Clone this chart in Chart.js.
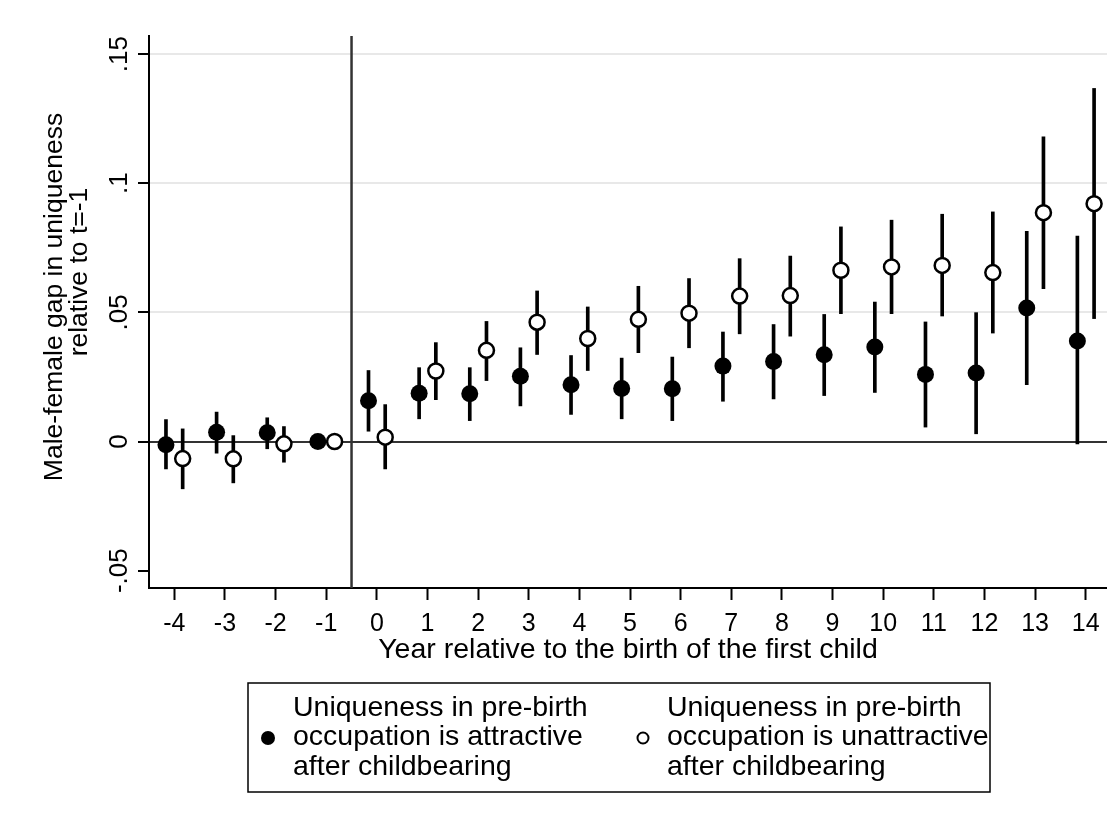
<!DOCTYPE html>
<html>
<head>
<meta charset="utf-8">
<script src="https://cdn.jsdelivr.net/npm/chart.js@4.4.1/dist/chart.umd.min.js"></script>
<style>
  html, body { margin: 0; padding: 0; background: #fff; }
  #wrap { width: 1107px; height: 833px; }
</style>
</head>
<body>
<div id="wrap"><canvas id="chart" width="1107" height="833"></canvas></div>
<script>
// years relative to the birth of the first child
const years = [-4, -3, -2, -1, 0, 1, 2, 3, 4, 5, 6, 7, 8, 9, 10, 11, 12, 13, 14];

// uniqueness in pre-birth occupation is attractive (filled markers)
const attEst = [-0.0012, 0.0036, 0.0034, 0, 0.0158, 0.0187, 0.0185, 0.0253, 0.0220, 0.0205, 0.0204, 0.0292, 0.0310, 0.0336, 0.0366, 0.0260, 0.0265, 0.0517, 0.0389];
const attLo  = [-0.0106, -0.0045, -0.0028, null, 0.0040, 0.0088, 0.0081, 0.0138, 0.0105, 0.0088, 0.0081, 0.0156, 0.0165, 0.0178, 0.0190, 0.0056, 0.0030, 0.0220, -0.0009];
const attHi  = [0.0085, 0.0114, 0.0092, null, 0.0275, 0.0286, 0.0286, 0.0363, 0.0333, 0.0323, 0.0327, 0.0424, 0.0453, 0.0492, 0.0540, 0.0463, 0.0499, 0.0814, 0.0795];

// uniqueness in pre-birth occupation is unattractive (hollow markers)
const unEst = [-0.0066, -0.0067, -0.0009, 0, 0.0017, 0.0273, 0.0353, 0.0462, 0.0399, 0.0473, 0.0497, 0.0563, 0.0565, 0.0663, 0.0676, 0.0682, 0.0654, 0.0886, 0.0921];
const unLo  = [-0.0183, -0.0160, -0.0080, null, -0.0106, 0.0162, 0.0236, 0.0337, 0.0275, 0.0344, 0.0363, 0.0417, 0.0408, 0.0495, 0.0495, 0.0486, 0.0420, 0.0592, 0.0476];
const unHi  = [0.0049, 0.0023, 0.0058, null, 0.0143, 0.0383, 0.0465, 0.0583, 0.0521, 0.0601, 0.0631, 0.0708, 0.0718, 0.0831, 0.0857, 0.0880, 0.0889, 0.1180, 0.1367];

const yTicks = [-0.05, 0, 0.05, 0.1, 0.15];
const yTickLabels = ['-.05', '0', '.05', '.1', '.15'];
const xTitle = 'Year relative to the birth of the first child';
const yTitle = ['Male-female gap in uniqueness', 'relative to t=-1'];
const legendLabels = [
  ['Uniqueness in pre-birth', 'occupation is attractive', 'after childbearing'],
  ['Uniqueness in pre-birth', 'occupation is unattractive', 'after childbearing']
];

const FONT = "'Liberation Sans', Arial, sans-serif";
const SHIFT = 0.165; // horizontal dodge of the two series

const pts = (est, d) => years.map((yr, i) => ({ x: yr + d, y: est[i] }));
const bars = (lo, hi, d) => years
  .map((yr, i) => ({ x: yr + d, y: [lo[i], hi[i]] }))
  .filter(p => p.y[0] !== null);

// reference line, rotated y labels, y title and the boxed legend
const extras = {
  id: 'extras',
  beforeDatasetsDraw(chart) {
    const { ctx, chartArea: a, scales: { x } } = chart;
    const px = x.getPixelForValue(-0.5);
    ctx.save();
    ctx.strokeStyle = '#333';
    ctx.lineWidth = 2.5;
    ctx.beginPath();
    ctx.moveTo(px, a.top);
    ctx.lineTo(px, a.bottom);
    ctx.stroke();
    ctx.restore();
  },
  afterDraw(chart) {
    const { ctx, scales: { y } } = chart;
    ctx.save();
    ctx.fillStyle = '#000';

    // y tick labels, vertical
    ctx.font = '26px ' + FONT;
    ctx.textAlign = 'center';
    ctx.textBaseline = 'alphabetic';
    yTicks.forEach((v, i) => {
      ctx.save();
      ctx.translate(127, y.getPixelForValue(v));
      ctx.rotate(-Math.PI / 2);
      ctx.fillText(yTickLabels[i], 0, 0);
      ctx.restore();
    });

    // y title, two lines
    ctx.font = '26.5px ' + FONT;
    [[62, 297], [87, 272]].forEach(([bx, cy], i) => {
      ctx.save();
      ctx.translate(bx, cy);
      ctx.rotate(-Math.PI / 2);
      ctx.fillText(yTitle[i], 0, 0);
      ctx.restore();
    });

    // legend
    ctx.strokeStyle = '#000';
    ctx.lineWidth = 1.5;
    ctx.strokeRect(248, 683, 742, 109);
    ctx.font = '28.5px ' + FONT;
    ctx.textAlign = 'left';
    ctx.textBaseline = 'middle';
    const items = [
      { mx: 268, tx: 293, filled: true },
      { mx: 643, tx: 667, filled: false }
    ];
    items.forEach((it, k) => {
      ctx.beginPath();
      if (it.filled) {
        ctx.arc(it.mx, 738, 7, 0, Math.PI * 2);
        ctx.fill();
      } else {
        ctx.lineWidth = 2;
        ctx.arc(it.mx, 738, 5.5, 0, Math.PI * 2);
        ctx.stroke();
      }
      legendLabels[k].forEach((line, j) => ctx.fillText(line, it.tx, 708 + j * 29.5));
    });
    ctx.restore();
  }
};

new Chart(document.getElementById('chart'), {
  type: 'scatter',
  data: {
    datasets: [
      {
        type: 'bar', data: bars(attLo, attHi, -SHIFT),
        backgroundColor: '#000', barThickness: 3, grouped: false, order: 3
      },
      {
        type: 'bar', data: bars(unLo, unHi, SHIFT),
        backgroundColor: '#000', barThickness: 3, grouped: false, order: 3
      },
      {
        data: pts(attEst, -SHIFT),
        pointRadius: 8.5, backgroundColor: '#000', borderWidth: 0, order: 1
      },
      {
        data: pts(unEst, SHIFT),
        pointRadius: 7.5, backgroundColor: '#fff', borderColor: '#000', borderWidth: 2.5, order: 1
      }
    ]
  },
  options: {
    responsive: false,
    devicePixelRatio: 1,
    animation: false,
    events: [],
    layout: { autoPadding: false, padding: { top: 36, right: 0, bottom: 158, left: 0 } },
    plugins: { legend: { display: false }, tooltip: { enabled: false } },
    scales: {
      x: {
        type: 'linear', min: -4.5, max: 14.42, offset: false,
        afterBuildTicks: s => { s.ticks = years.map(v => ({ value: v })); },
        afterFit: s => { s.height = 87; s.paddingLeft = 0; s.paddingRight = 0; },
        border: { color: '#000', width: 2 },
        grid: { drawOnChartArea: false, offset: false, tickLength: 12, tickColor: '#000', tickWidth: 2 },
        ticks: { color: '#000', padding: 9, font: { family: FONT, size: 25 }, maxRotation: 0, autoSkip: false },
        title: { display: true, text: xTitle, color: '#000', font: { family: FONT, size: 28.5 }, padding: { top: 0, bottom: 8 } }
      },
      y: {
        min: -0.0567, max: 0.157,
        afterBuildTicks: s => { s.ticks = yTicks.map(v => ({ value: v })); },
        afterFit: s => { s.width = 149; },
        border: { color: '#000', width: 2 },
        grid: {
          color: c => c.tick && c.tick.value === 0 ? '#333' : (c.tick && c.tick.value < -0.01 ? 'rgba(0,0,0,0)' : '#e8e8e8'),
          lineWidth: 2, tickLength: 11, tickColor: '#000', tickWidth: 2
        },
        ticks: { display: false }
      }
    }
  },
  plugins: [extras]
});
</script>
</body>
</html>
